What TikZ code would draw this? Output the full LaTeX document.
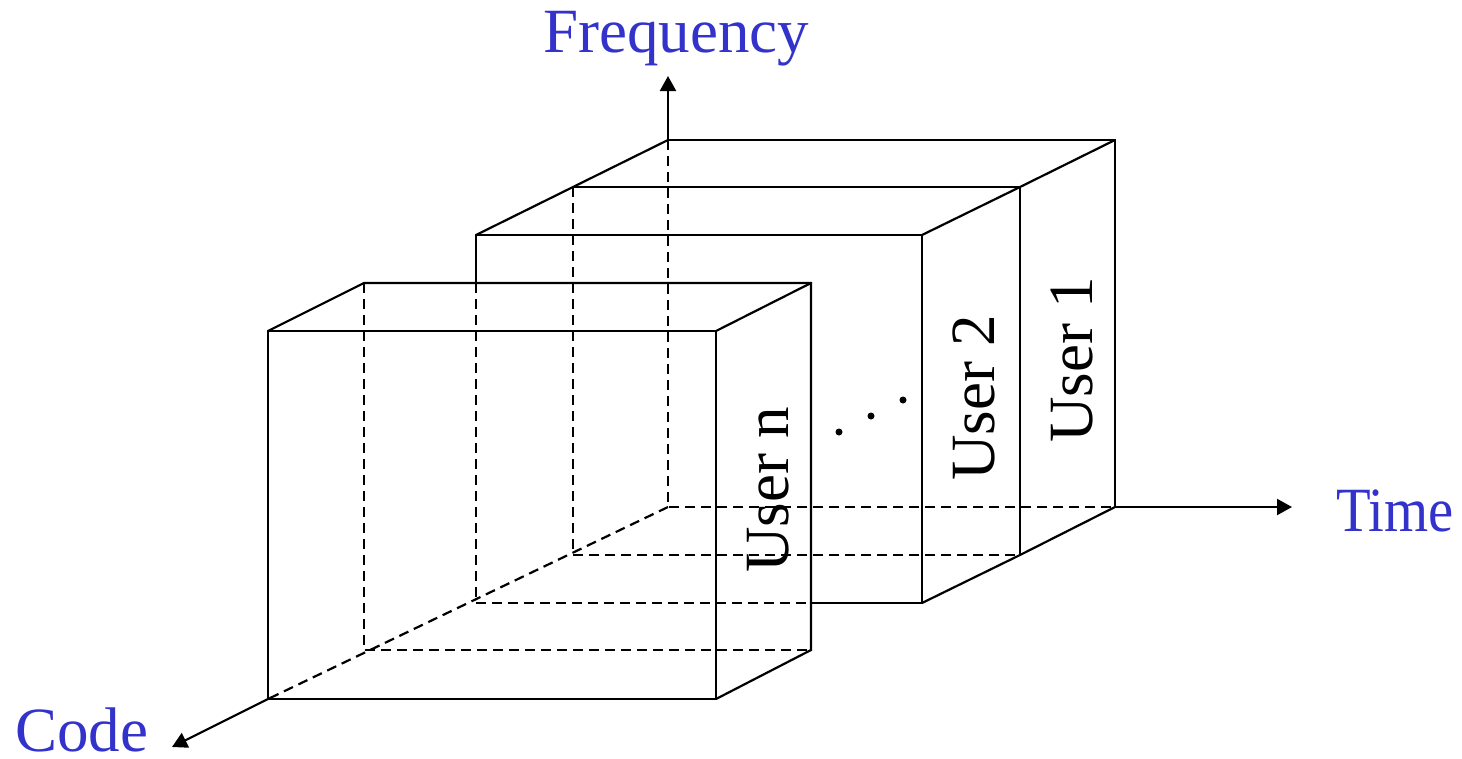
\documentclass[tikz,border=0pt]{standalone}
\usepackage{fontspec}
\setmainfont{Liberation Serif}
\usetikzlibrary{arrows.meta}
\definecolor{lblue}{RGB}{51,51,204}
\begin{document}
\begin{tikzpicture}[x=1pt,y=-1pt,
  edge/.style={line width=2.2pt},
  hid/.style={line width=2.2pt, dash pattern=on 10pt off 6pt},
  axis/.style={line width=2.2pt, -{Triangle[length=15pt,width=16pt]}},
  lab/.style={text=lblue, font=\fontsize{63}{70}\selectfont, inner sep=0pt, anchor=base west, text depth=0pt},
  ulab/.style={font=\fontsize{63}{70}\selectfont, inner sep=0pt, rotate=90, anchor=base west},
  dotn/.style={circle, fill=black, inner sep=0pt, minimum size=7pt}]
\useasboundingbox (0,0) rectangle (1462,758);
% back plane
\coordinate (a0b) at (668,507);
\coordinate (a0t) at (668,140);
\coordinate (b0t) at (1115,140);
\coordinate (b0b) at (1115,507);
% slab 1 front
\coordinate (a1t) at (573,187);
\coordinate (a1b) at (573,555);
\coordinate (b1t) at (1020,187);
\coordinate (b1b) at (1020,555);
% slab 2 front
\coordinate (a2t) at (476,235);
\coordinate (a2b) at (476,603);
\coordinate (b2t) at (922,235);
\coordinate (b2b) at (922,603);
% front box back face
\coordinate (a3t) at (364,283);
\coordinate (a3b) at (364,650);
\coordinate (b3t) at (811,283);
\coordinate (b3b) at (811,650);
% front box front face
\coordinate (a4t) at (268,331);
\coordinate (a4b) at (268,699);
\coordinate (b4t) at (716,331);
\coordinate (b4b) at (716,699);
% crossings
\coordinate (a2m) at (a2t |- a3t);
\coordinate (c2b) at (b3t |- a2b);
% axis tips
\coordinate (ftip) at (668,76);
\coordinate (ttip) at (1292,507);
\coordinate (ctip) at (172,747);

% solid edges
\draw[edge] (a0t) -- (b0t) -- (b0b);
\draw[edge] (a0t) -- (a1t) -- (a2t);
\draw[edge] (b0t) -- (b1t) -- (b2t);
\draw[edge] (b0b) -- (b1b) -- (b2b);
\draw[edge] (a1t) -- (b1t) -- (b1b);
\draw[edge] (a2m) -- (a2t) -- (b2t) -- (b2b) -- (c2b);
\draw[edge] (a4t) -- (b4t) -- (b4b) -- (a4b) -- cycle;
\draw[edge] (a4t) -- (a3t) -- (b3t) -- (b3b) -- (b4b);
\draw[edge] (b3t) -- (b4t);
% hidden edges
\draw[hid] (a0t) -- (a0b) -- (b0b);
\draw[hid] (a1t) -- (a1b) -- (b1b);
\draw[hid] (a2m) -- (a2b) -- (c2b);
\draw[hid] (a3t) -- (a3b) -- (b3b);
\draw[hid] (a0b) -- (a4b);
% axes
\draw[axis] (a0t) -- (ftip);
\draw[axis] (b0b) -- (ttip);
\draw[axis] (a4b) -- (ctip);
% labels
\node[lab] (freq) at (543,52) {Frequency};
\node[lab] (time) at (1336,531) {\scalebox{0.9}[1]{Time}};
\node[lab] (code) at (15,751) {Code};
\node[ulab] (u1) at (1092,443) {User 1};
\node[ulab] (u2) at (994,481) {User 2};
\node[ulab] (un) at (788,573) {User n};
% dots
\node[dotn] (d1) at (839,432) {};
\node[dotn] (d2) at (871,416) {};
\node[dotn] (d3) at (903,400) {};
\end{tikzpicture}
\end{document}
